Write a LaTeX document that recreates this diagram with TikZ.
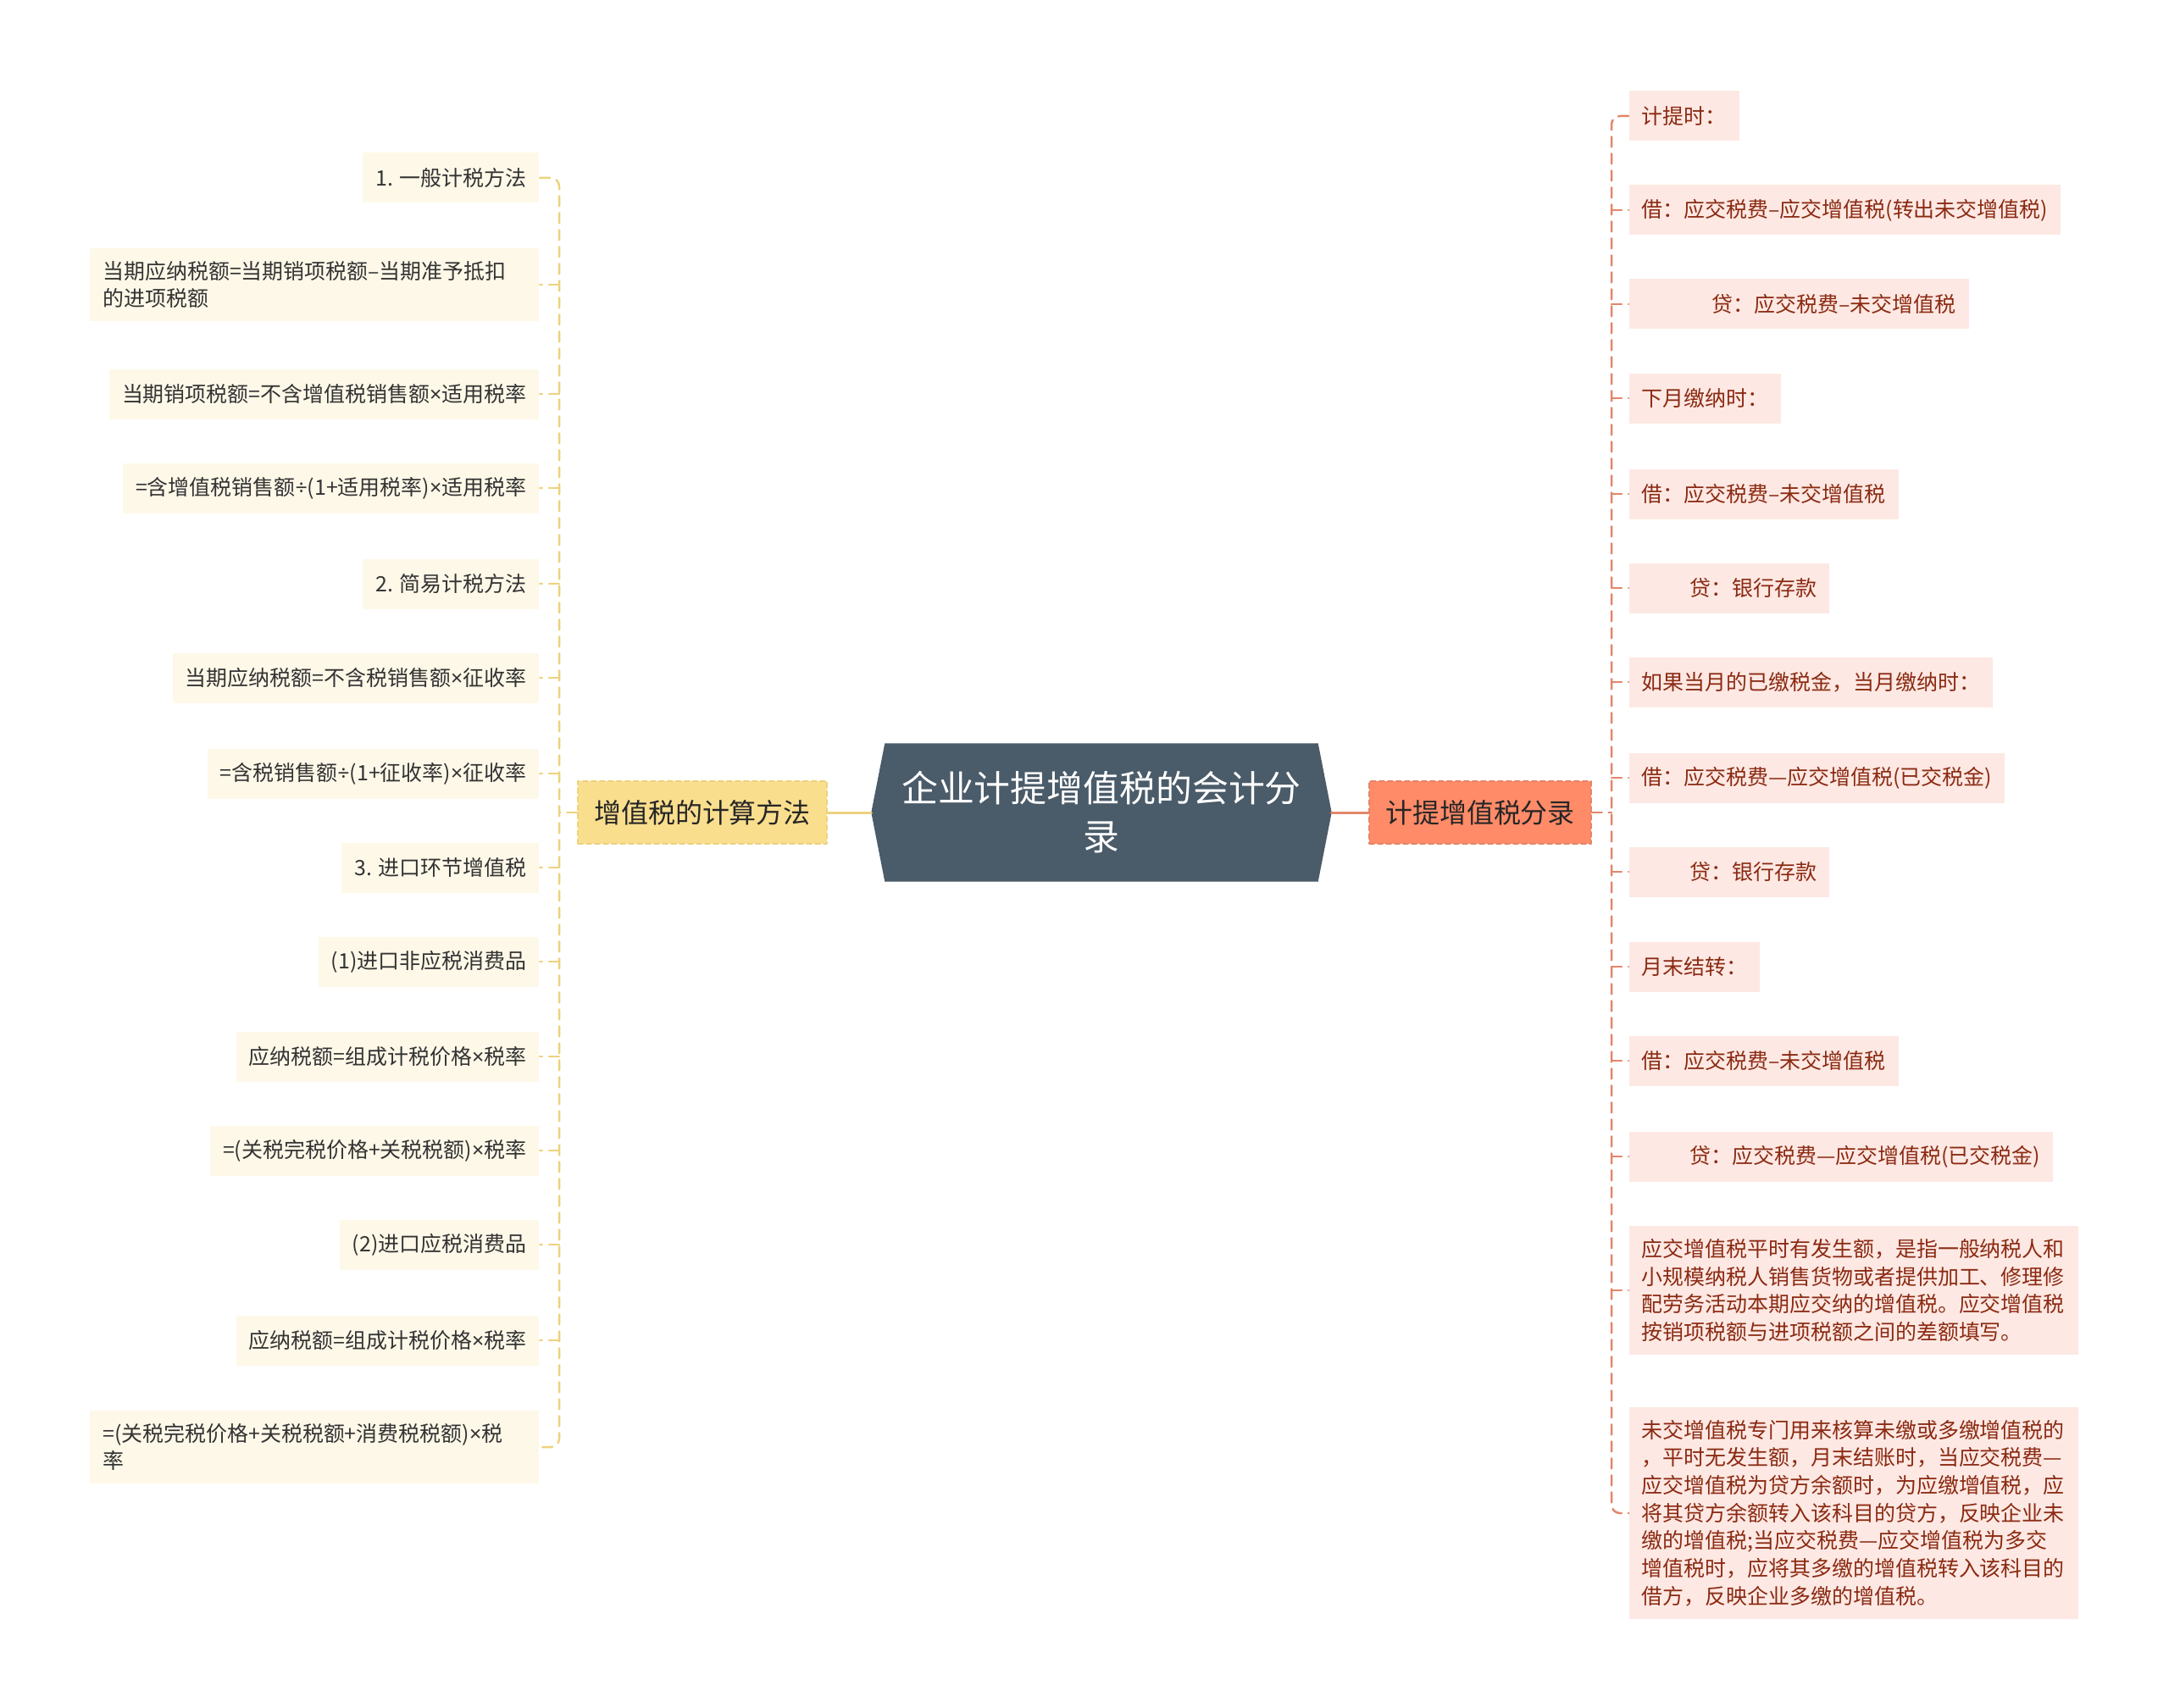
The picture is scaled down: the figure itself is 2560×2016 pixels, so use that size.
\documentclass[tikz,border=0pt]{standalone}
\usepackage{fontspec}
\setmainfont{Noto Sans CJK SC}
\newfontfamily\narrowsym{Noto Sans}
\newcommand{\mul}{{\narrowsym ×}}
\newcommand{\dvd}{{\narrowsym ÷}}
\usetikzlibrary{backgrounds}

\definecolor{rootfill}{HTML}{4A5B69}
\definecolor{calcfill}{HTML}{F9DE8E}
\definecolor{calcline}{HTML}{EDD27E}
\definecolor{calcleaf}{HTML}{FEF8E8}
\definecolor{entryfill}{HTML}{FF8B68}
\definecolor{entryline}{HTML}{E3866A}
\definecolor{entryleaf}{HTML}{FDE8E3}
\definecolor{entrytext}{HTML}{8B2A12}

\tikzset{
  leafbox/.style={rectangle, inner xsep=1.5mm, inner ysep=1.5mm, minimum height=5.9mm,
    font=\fontsize{7.1pt}{9.3pt}\selectfont},
  calcleafbox/.style={leafbox, fill=calcleaf, text=black!80, anchor=east},
  entryleafbox/.style={leafbox, fill=entryleaf, text=entrytext, anchor=west},
  branchbox/.style={rectangle, inner xsep=1.9mm, minimum height=7.4mm,
    font=\fontsize{9.1pt}{11pt}\selectfont, text=black!85, dash pattern=on 0.6mm off 0.4mm},
  calcwire/.style={draw=calcline, line width=0.25mm, dash pattern=on 1.2mm off 0.8mm},
  entrywire/.style={draw=entryline, line width=0.25mm, dash pattern=on 1.2mm off 0.8mm}
}

\begin{document}
\begin{tikzpicture}[line cap=round,line join=round,x=0.1mm,y=-0.1mm]
      \useasboundingbox (0,0) rectangle (2560,2016);

      % centre
      \node[minimum width=54.2mm, minimum height=16.2mm, align=center, text=white,
        font=\fontsize{12.2pt}{16.2pt}\selectfont] (root) at (1300,959) {企业计提增值税的会计分\\录};
      \begin{scope}[on background layer]
        \fill[white] (0,0) rectangle (2560,2016);
        \fill[rootfill] (root.west) -- ([xshift=1.6mm]root.north west) -- ([xshift=-1.6mm]root.north east)
          -- (root.east) -- ([xshift=-1.6mm]root.south east) -- ([xshift=1.6mm]root.south west) -- cycle;
      \end{scope}

      \node[branchbox, fill=calcfill, draw=calcline] (calc) at (829,959) {增值税的计算方法};
      \node[branchbox, fill=entryfill, draw=entryline] (entry) at (1747,959) {计提增值税分录};

      \draw[calcline, line width=0.3mm] (root.west) -- (calc.east);
      \draw[entryline, line width=0.3mm] (root.east) -- (entry.west);

      % left side
      \coordinate (lbar) at (660,0);
      \foreach \i/\y/\t in {1/210/{1. 一般计税方法},3/465/{当期销项税额=不含增值税销售额\mul 适用税率},
          4/576/{=含增值税销售额\dvd(1+适用税率)\mul 适用税率},5/689/{2. 简易计税方法},
          6/800/{当期应纳税额=不含税销售额\mul 征收率},7/913/{=含税销售额\dvd(1+征收率)\mul 征收率},
          8/1024/{3. 进口环节增值税},9/1135/{(1)进口非应税消费品},10/1247/{应纳税额=组成计税价格\mul 税率},
          11/1358/{=(关税完税价格+关税税额)\mul 税率},12/1469/{(2)进口应税消费品},
          13/1582/{应纳税额=组成计税价格\mul 税率}}{
        \node[calcleafbox] (L\i) at (637,\y) {\t};
      }
      \node[calcleafbox, text width=50mm, align=left] (L2) at (637,336) {当期应纳税额=当期销项税额–当期准予抵扣\\的进项税额};
      \node[calcleafbox, text width=50mm, align=left] (L14) at (637,1708) {=(关税完税价格+关税税额+消费税税额)\mul 税\\率};

      \draw[calcwire] (calc.west) -- (calc.west -| lbar);
      \draw[calcwire, rounded corners=1mm] (L1.east) -- (L1.east -| lbar) -- (L14.east -| lbar) -- (L14.east);
      \foreach \i in {2,...,13}{
        \draw[calcwire] (L\i.east -| lbar) -- (L\i.east);
      }

      % right side
      \coordinate (rbar) at (1902,0);
      \foreach \i/\y/\t in {1/137/{计提时：},2/248/{借：应交税费–应交增值税(转出未交增值税)},
          3/359/{\hspace*{8.3mm}贷：应交税费–未交增值税},4/470/{下月缴纳时：},
          5/583/{借：应交税费–未交增值税},6/694/{\hspace*{5.7mm}贷：银行存款},
          7/805/{如果当月的已缴税金，当月缴纳时：},8/918/{借：应交税费—应交增值税(已交税金)},
          9/1029/{\hspace*{5.7mm}贷：银行存款},10/1141/{月末结转：},
          11/1252/{借：应交税费–未交增值税},12/1365/{\hspace*{5.7mm}贷：应交税费—应交增值税(已交税金)}}{
        \node[entryleafbox] (R\i) at (1922,\y) {\t};
      }
      \node[entryleafbox, text width=50mm, align=left] (R13) at (1922,1523) {应交增值税平时有发生额，是指一般纳税人和\\小规模纳税人销售货物或者提供加工、修理修\\配劳务活动本期应交纳的增值税。应交增值税\\按销项税额与进项税额之间的差额填写。};
      \node[entryleafbox, text width=50mm, align=left] (R14) at (1922,1786) {未交增值税专门用来核算未缴或多缴增值税的\\，平时无发生额，月末结账时，当应交税费—\\应交增值税为贷方余额时，为应缴增值税，应\\将其贷方余额转入该科目的贷方，反映企业未\\缴的增值税;当应交税费—应交增值税为多交\\增值税时，应将其多缴的增值税转入该科目的\\借方，反映企业多缴的增值税。};

      \draw[entrywire] (entry.east) -- (entry.east -| rbar);
      \draw[entrywire, rounded corners=1mm] (R1.west) -- (R1.west -| rbar) -- (R14.west -| rbar) -- (R14.west);
      \foreach \i in {2,...,13}{
        \draw[entrywire] (R\i.west -| rbar) -- (R\i.west);
      }
\end{tikzpicture}
\end{document}
